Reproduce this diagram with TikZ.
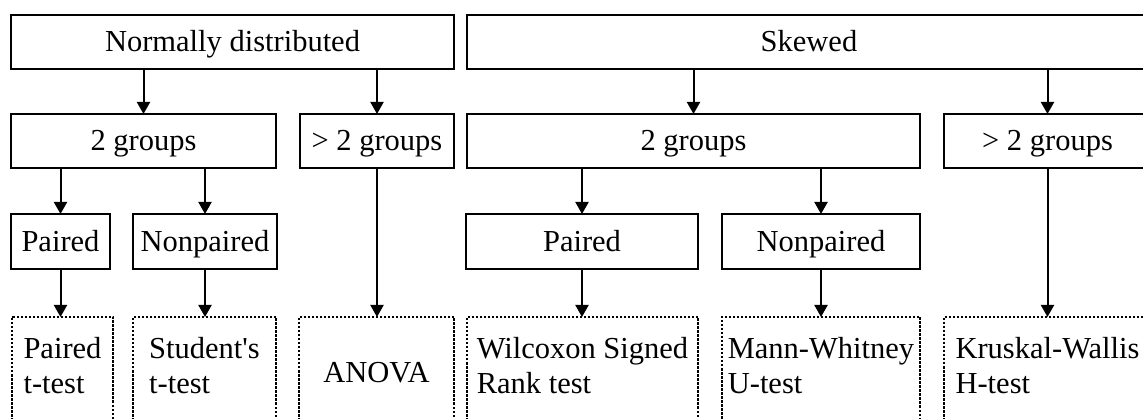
\documentclass[tikz,border=0pt]{standalone}
\usepackage{fontspec}
\setmainfont{Liberation Serif}
\usetikzlibrary{arrows.meta}
\begin{document}
\begin{tikzpicture}[x=1pt,y=-1pt,
  every node/.style={font=\fontsize{30.5}{35}\selectfont, inner sep=0pt, outer sep=0pt},
  bigbox/.style={draw, line width=2pt, minimum height=54pt, text height=20pt, text depth=0pt},
  midbox/.style={draw, line width=1.5pt, minimum height=55pt, text height=20pt, text depth=0pt},
  testbox/.style={draw, line width=1.4pt, dash pattern=on 2.5pt off 1.5pt, minimum height=113pt},
  testtext/.style={align=left, anchor=north},
  arr/.style={line width=2pt, -{Triangle[length=12pt,width=13pt]}}
]
\useasboundingbox (0,0) rectangle (1143,419);
% row 1
\node[bigbox, minimum width=443pt] (N) at (232.5,42) {Normally distributed};
\node[bigbox, minimum width=684pt] (S) at (809,42) {Skewed};
% row 2
\node[bigbox, minimum width=265pt] (G1) at (143.5,141) {2 groups};
\node[bigbox, minimum width=154pt] (G2) at (377,141) {> 2 groups};
\node[bigbox, minimum width=453pt] (G3) at (693.5,141) {2 groups};
\node[bigbox, minimum width=207pt] (G4) at (1047.5,141) {> 2 groups};
% row 3
\node[midbox, minimum width=99pt] (P1) at (60.5,241.5) {Paired};
\node[midbox, minimum width=144pt] (NP1) at (205,241.5) {Nonpaired};
\node[midbox, minimum width=232pt] (P2) at (582,241.5) {Paired};
\node[midbox, minimum width=198pt] (NP2) at (821,241.5) {Nonpaired};
% row 4 boxes
\node[testbox, minimum width=101pt] (T1) at (62.5,373.5) {};
\node[testbox, minimum width=143pt] (T2) at (204.5,373.5) {};
\node[testbox, minimum width=155pt] (T3) at (376.5,373.5) {};
\node[testbox, minimum width=231pt] (T4) at (582.5,373.5) {};
\node[testbox, minimum width=198pt] (T5) at (821,373.5) {};
\node[testbox, minimum width=207pt] (T6) at (1047.5,373.5) {};
% row 4 texts
\node[testtext] (T1t) at ([yshift=-16.5pt]T1.north) {\strut Paired\\t-test};
\node[testtext] (T2t) at ([yshift=-16.5pt]T2.north) {\strut Student\textquotesingle s\\t-test};
\node[anchor=base] (T3t) at ([yshift=-65pt]T3.north) {ANOVA};
\node[testtext] (T4t) at ([yshift=-16.5pt]T4.north) {\strut Wilcoxon Signed\\Rank test};
\node[testtext] (T5t) at ([yshift=-16.5pt]T5.north) {\strut Mann-Whitney\\U-test};
\node[testtext] (T6t) at ([yshift=-16.5pt]T6.north) {\strut Kruskal-Wallis\\H-test};
% arrows row 1 -> 2
\draw[arr] (G1.north |- N.south) -- (G1.north);
\draw[arr] (G2.north |- N.south) -- (G2.north);
\draw[arr] (G3.north |- S.south) -- (G3.north);
\draw[arr] (G4.north |- S.south) -- (G4.north);
% arrows row 2 -> 3
\draw[arr] (P1.north |- G1.south) -- (P1.north);
\draw[arr] (NP1.north |- G1.south) -- (NP1.north);
\draw[arr] (P2.north |- G3.south) -- (P2.north);
\draw[arr] (NP2.north |- G3.south) -- (NP2.north);
% arrows row 3 -> 4
\draw[arr] (P1.south) -- (P1.south |- T1.north);
\draw[arr] (NP1.south) -- (NP1.south |- T2.north);
\draw[arr] (G2.south) -- (G2.south |- T3.north);
\draw[arr] (P2.south) -- (P2.south |- T4.north);
\draw[arr] (NP2.south) -- (NP2.south |- T5.north);
\draw[arr] (G4.south) -- (G4.south |- T6.north);
\end{tikzpicture}
\end{document}
